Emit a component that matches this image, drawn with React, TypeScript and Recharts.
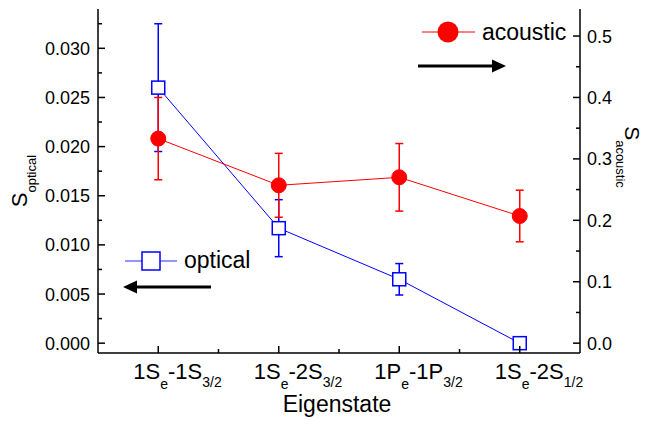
import React from "react"
import {
  ComposedChart,
  Line,
  XAxis,
  YAxis,
  ErrorBar,
  Customized,
} from "recharts"

// eigenstate labels: electron state (sub "e") - hole state (sub j)
const electronState = ["1S", "1S", "1P", "1S"]
const holeState = ["1S", "2S", "1P", "2S"]
const holeSub = ["3/2", "3/2", "3/2", "1/2"]

// optical (left axis)
const optical = [0.026, 0.0117, 0.0065, 0.0]
const opticalErr = [0.0065, 0.0029, 0.0016, 0]

// acoustic (right axis)
const acoustic = [0.333, 0.257, 0.27, 0.207]
const acousticErr = [0.067, 0.052, 0.055, 0.042]

const xTicks = [1, 1.5, 2, 2.5, 3, 3.5, 4]
const leftTicks = [0, 0.0025, 0.005, 0.0075, 0.01, 0.0125, 0.015, 0.0175, 0.02, 0.0225, 0.025, 0.0275, 0.03, 0.0325]
const rightTicks = [0, 0.05, 0.1, 0.15, 0.2, 0.25, 0.3, 0.35, 0.4, 0.45, 0.5]

const FONT = "'Liberation Sans', Arial, sans-serif"
const BLUE = "#0000ff"
const RED = "#ff0000"

const data = electronState.map((_, i) => ({
  x: i + 1,
  optical: optical[i],
  opticalErr: opticalErr[i],
  acoustic: acoustic[i],
  acousticErr: acousticErr[i],
}))

const BottomTick = ({ x, y, payload }: any) => {
  const v = payload.value
  const major = Number.isInteger(v)
  const i = v - 1
  return (
    <g>
      <line x1={x} x2={x} y1={y} y2={y - (major ? 7 : 4)} stroke="#000" strokeWidth={1.5} />
      {major && (
        <text x={x - 25} y={y + 26} fontFamily={FONT} fill="#000">
          <tspan fontSize={22}>{electronState[i]}</tspan>
          <tspan fontSize={14} dy={10}>e</tspan>
          <tspan fontSize={22} dy={-10}>-{holeState[i]}</tspan>
          <tspan fontSize={14} dy={8}>{holeSub[i]}</tspan>
        </text>
      )}
    </g>
  )
}

const TopTick = ({ x, y, payload }: any) => {
  const major = Number.isInteger(payload.value)
  return <line x1={x} x2={x} y1={y} y2={y + (major ? 7 : 4)} stroke="#000" strokeWidth={1.5} />
}

const LeftTick = ({ x, y, payload }: any) => {
  const v = payload.value
  const major = Math.round(v * 10000) % 50 === 0
  return (
    <g>
      <line x1={x} x2={x + (major ? 7 : 4)} y1={y} y2={y} stroke="#000" strokeWidth={1.5} />
      {major && (
        <text x={x - 8} y={y + 6.5} textAnchor="end" fontSize={18} fontFamily={FONT} fill="#000">
          {v.toFixed(3)}
        </text>
      )}
    </g>
  )
}

const RightTick = ({ x, y, payload }: any) => {
  const v = payload.value
  const major = Math.round(v * 100) % 10 === 0
  return (
    <g>
      <line x1={x} x2={x - (major ? 7 : 4)} y1={y} y2={y} stroke="#000" strokeWidth={1.5} />
      {major && (
        <text x={x + 7} y={y + 6.5} textAnchor="start" fontSize={18} fontFamily={FONT} fill="#000">
          {v.toFixed(1)}
        </text>
      )}
    </g>
  )
}

const SquareDot = (p: any) => (
  <rect
    key={`sq-${p.index}`}
    x={p.cx - 6.5}
    y={p.cy - 6.5}
    width={13}
    height={13}
    fill="#fff"
    stroke={BLUE}
    strokeWidth={1.5}
  />
)

const CircleDot = (p: any) => (
  <circle key={`ci-${p.index}`} cx={p.cx} cy={p.cy} r={7.5} fill={RED} stroke={RED} />
)

// axis titles, legend entries and arrows
const Annotations = () => (
  <g fontFamily={FONT} fill="#000">
    <text x={27} y={181} textAnchor="middle" transform="rotate(-90, 27, 181)">
      <tspan fontSize={22}>S</tspan>
      <tspan fontSize={13} dy={9}>optical</tspan>
    </text>
    <text x={625} y={157} textAnchor="middle" transform="rotate(90, 625, 157)">
      <tspan fontSize={21}>S</tspan>
      <tspan fontSize={13} dy={9}>acoustic</tspan>
    </text>
    <text x={337} y={412} textAnchor="middle" fontSize={23}>Eigenstate</text>

    {/* acoustic legend */}
    <line x1={422} x2={475} y1={32} y2={32} stroke={RED} strokeWidth={1} />
    <circle cx={448} cy={32} r={10.5} fill={RED} />
    <text x={482} y={40} fontSize={23}>acoustic</text>
    <line x1={418} x2={494} y1={66} y2={66} stroke="#000" strokeWidth={3} />
    <polygon points="506,66 492,59.5 492,72.5" fill="#000" />

    {/* optical legend */}
    <line x1={125} x2={177} y1={261} y2={261} stroke="#7070ff" strokeWidth={1.5} />
    <rect x={142} y={252} width={18} height={18} fill="#fff" stroke={BLUE} strokeWidth={1.5} />
    <text x={184} y={268} fontSize={23}>optical</text>
    <line x1={135} x2={211} y1={287} y2={287} stroke="#000" strokeWidth={3} />
    <polygon points="123,287 137,280.5 137,293.5" fill="#000" />
  </g>
)

export default function App() {
  return (
    <div style={{ position: "absolute", left: 0, top: 0, width: 648, height: 421, background: "#fff" }}>
      <ComposedChart
        width={648}
        height={421}
        data={data}
        margin={{ top: 9, right: 0, bottom: 0, left: 0 }}
      >
        <XAxis
          dataKey="x"
          type="number"
          domain={[0.5, 4.5]}
          ticks={xTicks}
          interval={0}
          height={68}
          tickSize={0}
          tickMargin={0}
          tick={<BottomTick />}
          axisLine={{ stroke: "#000", strokeWidth: 1.5 }}
          tickLine={false}
        />
        <XAxis
          xAxisId="top"
          dataKey="x"
          type="number"
          orientation="top"
          domain={[0.5, 4.5]}
          ticks={xTicks}
          interval={0}
          height={0}
          tickSize={0}
          tickMargin={0}
          tick={<TopTick />}
          axisLine={{ stroke: "#000", strokeWidth: 1.5 }}
          tickLine={false}
        />
        <YAxis
          yAxisId="left"
          type="number"
          domain={[-0.001, 0.034]}
          ticks={leftTicks}
          interval={0}
          width={98}
          tickSize={0}
          tickMargin={0}
          tick={<LeftTick />}
          axisLine={{ stroke: "#000", strokeWidth: 1.5 }}
          tickLine={false}
        />
        <YAxis
          yAxisId="right"
          orientation="right"
          type="number"
          domain={[-0.016, 0.544]}
          ticks={rightTicks}
          interval={0}
          width={68}
          tickSize={0}
          tickMargin={0}
          tick={<RightTick />}
          axisLine={{ stroke: "#000", strokeWidth: 1.5 }}
          tickLine={false}
        />
        <Line
          yAxisId="left"
          dataKey="optical"
          type="linear"
          stroke={BLUE}
          strokeWidth={1}
          dot={SquareDot}
          activeDot={false}
          isAnimationActive={false}
        >
          <ErrorBar dataKey="opticalErr" direction="y" width={4} stroke={BLUE} strokeWidth={1.5} />
        </Line>
        <Line
          yAxisId="right"
          dataKey="acoustic"
          type="linear"
          stroke={RED}
          strokeWidth={1}
          dot={CircleDot}
          activeDot={false}
          isAnimationActive={false}
        >
          <ErrorBar dataKey="acousticErr" direction="y" width={4} stroke={RED} strokeWidth={1.5} />
        </Line>
        <Customized component={Annotations} />
      </ComposedChart>
    </div>
  )
}
